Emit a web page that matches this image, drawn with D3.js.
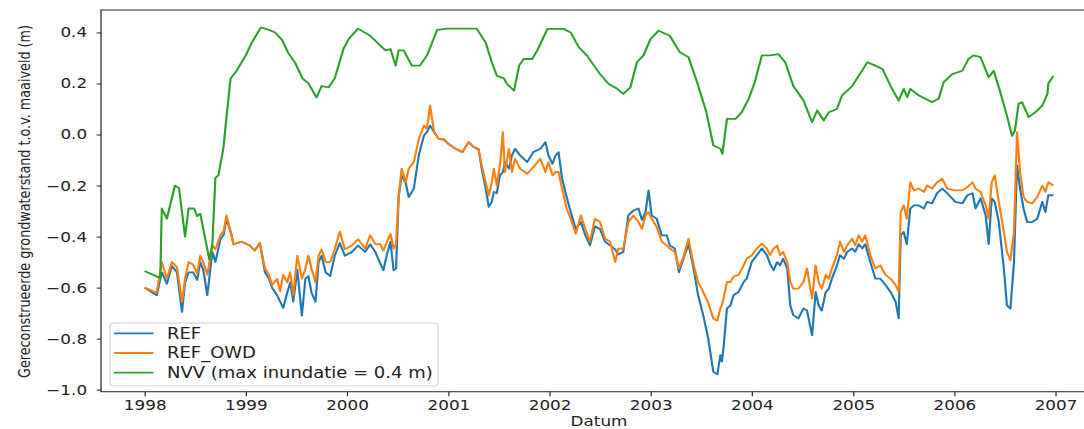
<!DOCTYPE html>
<html>
<head>
<meta charset="utf-8">
<script src="https://cdn.jsdelivr.net/npm/d3@7"></script>
<style>
  html, body { margin: 0; padding: 0; background: #fff; }
  svg { display: block; font-family: "DejaVu Sans", sans-serif; }
</style>
</head>
<body>
<script>
// Decimal-year sample dates shared by REF and REF_OWD
var refYears = [
  1998.00, 1998.06, 1998.12, 1998.17, 1998.22, 1998.27, 1998.32, 1998.37, 1998.40, 1998.435,
  1998.48, 1998.52, 1998.55, 1998.58, 1998.62, 1998.67, 1998.70, 1998.75, 1998.78, 1998.81,
  1998.85, 1998.88, 1998.96, 1999.04, 1999.09, 1999.14, 1999.19, 1999.23, 1999.26, 1999.31,
  1999.34, 1999.37, 1999.41, 1999.44, 1999.47, 1999.51, 1999.555, 1999.59, 1999.62, 1999.65,
  1999.69, 1999.72, 1999.75, 1999.79, 1999.835, 1999.88, 1999.93, 1999.98, 2000.05, 2000.11,
  2000.18, 2000.23, 2000.28, 2000.33, 2000.36, 2000.395, 2000.43, 2000.46, 2000.485, 2000.51,
  2000.54, 2000.58, 2000.61, 2000.66, 2000.71, 2000.76, 2000.79, 2000.82, 2000.86, 2000.905,
  2000.955, 2001.00, 2001.07, 2001.14, 2001.20, 2001.25, 2001.30, 2001.33, 2001.37, 2001.40,
  2001.43, 2001.45, 2001.48, 2001.51, 2001.54, 2001.56, 2001.60, 2001.63, 2001.66, 2001.71,
  2001.78, 2001.84, 2001.91, 2001.96, 2001.99, 2002.03, 2002.06, 2002.09, 2002.125, 2002.17,
  2002.21, 2002.26, 2002.31, 2002.355, 2002.40, 2002.45, 2002.50, 2002.55, 2002.60, 2002.65,
  2002.68, 2002.73, 2002.78, 2002.83, 2002.88, 2002.915, 2002.95, 2002.98, 2003.01, 2003.06,
  2003.11, 2003.16, 2003.19, 2003.24, 2003.28, 2003.33, 2003.375, 2003.425, 2003.47, 2003.52,
  2003.57, 2003.62, 2003.66, 2003.69, 2003.705, 2003.72, 2003.755, 2003.79, 2003.82, 2003.87,
  2003.92, 2003.95, 2004.00, 2004.05, 2004.10, 2004.15, 2004.18, 2004.215, 2004.25, 2004.28,
  2004.31, 2004.35, 2004.38, 2004.41, 2004.46, 2004.51, 2004.545, 2004.595, 2004.63, 2004.66,
  2004.69, 2004.73, 2004.76, 2004.79, 2004.84, 2004.87, 2004.91, 2004.94, 2004.99, 2005.02,
  2005.055, 2005.09, 2005.12, 2005.17, 2005.22, 2005.27, 2005.32, 2005.37, 2005.42, 2005.45,
  2005.47, 2005.50, 2005.53, 2005.565, 2005.60, 2005.65, 2005.70, 2005.73, 2005.78, 2005.83,
  2005.88, 2005.93, 2006.01, 2006.08, 2006.13, 2006.18, 2006.21, 2006.26, 2006.31, 2006.34,
  2006.37, 2006.40, 2006.44, 2006.49, 2006.52, 2006.555, 2006.59, 2006.62, 2006.65, 2006.685,
  2006.72, 2006.77, 2006.82, 2006.87, 2006.90, 2006.93, 2006.98
];

var refValues = [
  -0.60, -0.615, -0.63, -0.54, -0.585, -0.515, -0.54, -0.695, -0.58, -0.54,
  -0.54, -0.57, -0.50, -0.53, -0.63, -0.46, -0.50, -0.41, -0.395, -0.33,
  -0.38, -0.43, -0.42, -0.435, -0.455, -0.425, -0.54, -0.565, -0.60, -0.63,
  -0.655, -0.68, -0.62, -0.58, -0.655, -0.53, -0.71, -0.565, -0.555, -0.62,
  -0.655, -0.50, -0.475, -0.54, -0.555, -0.475, -0.425, -0.475, -0.46, -0.435,
  -0.46, -0.43, -0.46, -0.506, -0.532, -0.47, -0.42, -0.532, -0.525, -0.245,
  -0.16, -0.19, -0.245, -0.212, -0.08, -0.004, 0.01, 0.035, 0.009, -0.017,
  -0.02, -0.036, -0.056, -0.069, -0.030, -0.049, -0.06, -0.134, -0.212, -0.284,
  -0.264, -0.225, -0.23, -0.16, -0.147, -0.108, -0.134, -0.082, -0.056, -0.082,
  -0.108, -0.069, -0.056, -0.03, -0.082, -0.115, -0.082, -0.069, -0.173, -0.245,
  -0.304, -0.37, -0.343, -0.395, -0.435, -0.36, -0.37, -0.42, -0.435, -0.45,
  -0.47, -0.46, -0.317, -0.298, -0.29, -0.335, -0.304, -0.219, -0.317, -0.33,
  -0.395, -0.395, -0.435, -0.447, -0.54, -0.48, -0.43, -0.525, -0.63, -0.708,
  -0.80, -0.93, -0.94, -0.865, -0.89, -0.839, -0.682, -0.67, -0.63, -0.617,
  -0.578, -0.565, -0.50, -0.473, -0.447, -0.473, -0.506, -0.532, -0.50, -0.513,
  -0.487, -0.525, -0.67, -0.708, -0.721, -0.682, -0.69, -0.787, -0.617, -0.67,
  -0.69, -0.617, -0.604, -0.565, -0.513, -0.473, -0.487, -0.46, -0.447, -0.46,
  -0.43, -0.447, -0.43, -0.50, -0.565, -0.565, -0.59, -0.617, -0.656, -0.721,
  -0.395, -0.382, -0.43, -0.29, -0.278, -0.278, -0.29, -0.264, -0.27, -0.23,
  -0.212, -0.23, -0.264, -0.27, -0.238, -0.23, -0.29, -0.25, -0.317, -0.43,
  -0.25, -0.264, -0.343, -0.525, -0.67, -0.682, -0.50, -0.121, -0.212, -0.29,
  -0.343, -0.343, -0.33, -0.264, -0.304, -0.238, -0.238
];

var owdValues = [
  -0.60, -0.61, -0.62, -0.50, -0.565, -0.50, -0.52, -0.656, -0.565, -0.50,
  -0.51, -0.545, -0.475, -0.50, -0.55, -0.435, -0.45, -0.395, -0.38, -0.317,
  -0.38, -0.43, -0.42, -0.435, -0.455, -0.425, -0.525, -0.55, -0.59, -0.565,
  -0.615, -0.55, -0.58, -0.54, -0.63, -0.475, -0.565, -0.525, -0.475, -0.525,
  -0.58, -0.475, -0.45, -0.50, -0.50, -0.45, -0.38, -0.45, -0.435, -0.41,
  -0.447, -0.395, -0.43, -0.43, -0.455, -0.42, -0.389, -0.447, -0.43, -0.239,
  -0.134, -0.187, -0.134, -0.108, -0.017, 0.035, 0.022, 0.114, 0.009, -0.017,
  -0.017, -0.036, -0.056, -0.069, -0.030, -0.049, -0.056, -0.121, -0.187, -0.239,
  -0.187, -0.134, -0.20, -0.121, 0.009, -0.147, -0.056, -0.147, -0.095, -0.134,
  -0.154, -0.128, -0.095, -0.147, -0.108, -0.16, -0.147, -0.147, -0.212, -0.29,
  -0.33, -0.389, -0.317, -0.37, -0.42, -0.33, -0.343, -0.408, -0.42, -0.50,
  -0.447, -0.447, -0.343, -0.317, -0.343, -0.37, -0.317, -0.304, -0.33, -0.362,
  -0.42, -0.435, -0.447, -0.46, -0.525, -0.473, -0.408, -0.51, -0.578, -0.617,
  -0.66, -0.721, -0.73, -0.68, -0.67, -0.643, -0.578, -0.578, -0.557, -0.55,
  -0.513, -0.487, -0.473, -0.447, -0.428, -0.447, -0.473, -0.447, -0.435, -0.473,
  -0.46, -0.50, -0.578, -0.604, -0.604, -0.578, -0.525, -0.643, -0.513, -0.578,
  -0.604, -0.55, -0.565, -0.525, -0.473, -0.42, -0.46, -0.435, -0.408, -0.435,
  -0.395, -0.42, -0.395, -0.473, -0.525, -0.513, -0.55, -0.565, -0.59, -0.617,
  -0.304, -0.278, -0.33, -0.187, -0.219, -0.212, -0.225, -0.20, -0.212, -0.187,
  -0.173, -0.212, -0.219, -0.219, -0.206, -0.187, -0.212, -0.225, -0.278, -0.33,
  -0.187, -0.16, -0.264, -0.382, -0.46, -0.493, -0.382, 0.009, -0.147, -0.245,
  -0.264, -0.27, -0.245, -0.20, -0.225, -0.187, -0.20
];

var nvvYears = [
  1998.00, 1998.14, 1998.155, 1998.17, 1998.22, 1998.30, 1998.34, 1998.40, 1998.435, 1998.49,
  1998.52, 1998.55, 1998.58, 1998.64, 1998.67, 1998.70, 1998.73, 1998.78, 1998.81, 1998.85,
  1998.91, 1999.00, 1999.06, 1999.15, 1999.23, 1999.29, 1999.36, 1999.42, 1999.49, 1999.56,
  1999.62, 1999.70, 1999.75, 1999.82, 1999.88, 1999.97, 2000.02, 2000.11, 2000.23, 2000.33,
  2000.38, 2000.43, 2000.48, 2000.51, 2000.56, 2000.64, 2000.72, 2000.79, 2000.89, 2000.99,
  2001.28, 2001.37, 2001.43, 2001.48, 2001.55, 2001.58, 2001.65, 2001.70, 2001.745, 2001.83,
  2001.88, 2001.98, 2002.14, 2002.21, 2002.29, 2002.37, 2002.44, 2002.50, 2002.585, 2002.67,
  2002.73, 2002.80, 2002.865, 2002.93, 2003.00, 2003.08, 2003.19, 2003.29, 2003.375, 2003.46,
  2003.55, 2003.62, 2003.69, 2003.71, 2003.755, 2003.84, 2003.90, 2003.97, 2004.03, 2004.10,
  2004.18, 2004.265, 2004.33, 2004.41, 2004.51, 2004.595, 2004.645, 2004.71, 2004.76, 2004.84,
  2004.89, 2004.99, 2005.055, 2005.14, 2005.22, 2005.29, 2005.37, 2005.45, 2005.50, 2005.535,
  2005.565, 2005.65, 2005.78, 2005.845, 2005.895, 2005.98, 2006.08, 2006.14, 2006.19, 2006.26,
  2006.34, 2006.39, 2006.455, 2006.52, 2006.57, 2006.60, 2006.635, 2006.67, 2006.735, 2006.80,
  2006.87, 2006.92, 2006.93, 2006.98
];

var nvvValues = [
  -0.535, -0.56, -0.56, -0.29, -0.33, -0.20, -0.21, -0.40, -0.29, -0.29,
  -0.32, -0.31, -0.37, -0.49, -0.43, -0.17, -0.16, -0.05, 0.07, 0.22,
  0.25, 0.31, 0.36, 0.42, 0.41, 0.40, 0.37, 0.32, 0.28, 0.22,
  0.20, 0.145, 0.19, 0.185, 0.22, 0.34, 0.375, 0.415, 0.387, 0.348,
  0.33, 0.335, 0.27, 0.33, 0.33, 0.27, 0.27, 0.31, 0.41, 0.415,
  0.415, 0.36, 0.283, 0.23, 0.22, 0.198, 0.172, 0.27, 0.296, 0.296,
  0.33, 0.414, 0.414, 0.40, 0.342, 0.31, 0.27, 0.237, 0.198, 0.179,
  0.159, 0.185, 0.283, 0.31, 0.375, 0.407, 0.387, 0.322, 0.303, 0.205,
  0.09, -0.043, -0.056, -0.076, 0.061, 0.061, 0.087, 0.14, 0.205, 0.31,
  0.31, 0.315, 0.283, 0.19, 0.133, 0.048, 0.094, 0.055, 0.087, 0.10,
  0.153, 0.19, 0.23, 0.283, 0.27, 0.257, 0.19, 0.133, 0.179, 0.146,
  0.179, 0.153, 0.127, 0.14, 0.205, 0.237, 0.25, 0.296, 0.31, 0.303,
  0.224, 0.25, 0.166, 0.074, -0.005, 0.016, 0.12, 0.127, 0.068, 0.087,
  0.113, 0.159, 0.20, 0.23
];

var yTicks = [-1.0, -0.8, -0.6, -0.4, -0.2, 0.0, 0.2, 0.4];
var xTickYears = [1998, 1999, 2000, 2001, 2002, 2003, 2004, 2005, 2006, 2007];
var seriesNames = ["REF", "REF_OWD", "NVV (max inundatie = 0.4 m)"];
var colors = ["#1f77b4", "#ff7f0e", "#2ca02c"];

var W = 1084, H = 429;
// the reference picture is stretched horizontally, so draw in a scaled group
var SX = 1.2;
function px(v) { return v / SX; }

function dec(y) {
  var yr = Math.floor(y),
      a = Date.UTC(yr, 0, 1),
      b = Date.UTC(yr + 1, 0, 1);
  return new Date(a + (y - yr) * (b - a));
}

var refData = refYears.map(function(t, i) { return {date: dec(t), value: refValues[i]}; }),
    owdData = refYears.map(function(t, i) { return {date: dec(t), value: owdValues[i]}; }),
    nvvData = nvvYears.map(function(t, i) { return {date: dec(t), value: nvvValues[i]}; });
var series = [refData, owdData, nvvData];

var axLeft = 101, axTop = 10, axBottom = 391.7, pxPerYear = 101.2;

// x domain padded like matplotlib's default margins
var tMin = d3.min(refYears.concat(nvvYears)),
    tMax = d3.max(refYears.concat(nvvYears)),
    xPad = 0.048 * (tMax - tMin);
var x = d3.scaleUtc()
    .domain([dec(tMin - xPad), dec(tMax + xPad)])
    .range([px(axLeft), px(axLeft + (tMax - tMin + 2 * xPad) * pxPerYear)]);

var allVals = refValues.concat(owdValues, nvvValues),
    vMin = d3.min(allVals), vMax = d3.max(allVals),
    yPad = 0.05 * (vMax - vMin);
var y = d3.scaleLinear()
    .domain([vMin - yPad, vMax + yPad])
    .range([axBottom, axTop]);

var svg = d3.select("body").append("svg")
    .attr("width", W)
    .attr("height", H);

svg.append("rect").attr("width", W).attr("height", H).attr("fill", "#fff");

var g = svg.append("g").attr("transform", "scale(" + SX + ",1)");

var xRight = x.range()[1];

// lines
var line = d3.line()
    .x(function(d) { return x(d.date); })
    .y(function(d) { return y(d.value); });

g.selectAll(".series")
    .data(series)
  .enter().append("path")
    .attr("class", "series")
    .attr("d", line)
    .attr("fill", "none")
    .attr("stroke", function(d, i) { return colors[i]; })
    .attr("stroke-width", 1.8)
    .attr("stroke-linejoin", "round");

// spines
g.append("path")
    .attr("d", "M" + xRight + "," + axTop + "H" + px(axLeft) + "V" + axBottom + "H" + xRight)
    .attr("fill", "none")
    .attr("stroke", "#222")
    .attr("stroke-width", 1);

// axes
var yAxis = g.append("g")
    .attr("transform", "translate(" + px(axLeft) + ",0)")
    .call(d3.axisLeft(y).tickValues(yTicks).tickFormat(d3.format(".1f")).tickSize(3.6).tickPadding(8));

var xAxis = g.append("g")
    .attr("transform", "translate(0," + axBottom + ")")
    .call(d3.axisBottom(x)
      .tickValues(xTickYears.map(function(yr) { return dec(yr); }))
      .tickFormat(d3.utcFormat("%Y"))
      .tickSize(4.5).tickPadding(3.5));

[xAxis, yAxis].forEach(function(ax) {
  ax.select(".domain").remove();
  ax.selectAll(".tick line").attr("stroke", "#222");
  ax.selectAll(".tick text")
      .attr("fill", "#222")
      .style("font-size", "14px")
      .style("font-family", "DejaVu Sans, sans-serif");
});

// axis labels
g.append("text")
    .attr("x", px(599))
    .attr("y", 426)
    .attr("text-anchor", "middle")
    .attr("fill", "#222")
    .style("font-size", "14px")
    .text("Datum");

g.append("text")
    .attr("transform", "translate(" + px(30) + ",201.5) rotate(-90)")
    .attr("text-anchor", "middle")
    .attr("fill", "#222")
    .attr("textLength", 353)
    .attr("lengthAdjust", "spacingAndGlyphs")
    .style("font-size", "12.5px")
    .text("Gereconstrueerde grondwaterstand t.o.v. maaiveld (m)");

// legend
var legend = g.append("g");

legend.append("rect")
    .attr("x", px(110))
    .attr("y", 323)
    .attr("width", px(438) - px(110))
    .attr("height", 63)
    .attr("rx", 3)
    .attr("fill", "#fff")
    .attr("fill-opacity", 0.8)
    .attr("stroke", "#d0d0d0")
    .attr("stroke-width", 1);

var items = legend.selectAll(".item")
    .data(seriesNames)
  .enter().append("g")
    .attr("class", "item")
    .attr("transform", function(d, i) { return "translate(0," + (333.3 + i * 19.7) + ")"; });

items.append("line")
    .attr("x1", px(114))
    .attr("x2", px(153.5))
    .attr("stroke", function(d, i) { return colors[i]; })
    .attr("stroke-width", 1.8);

items.append("text")
    .attr("x", px(167))
    .attr("dy", "0.36em")
    .attr("fill", "#222")
    .style("font-size", "15px")
    .text(String);
</script>
</body>
</html>
